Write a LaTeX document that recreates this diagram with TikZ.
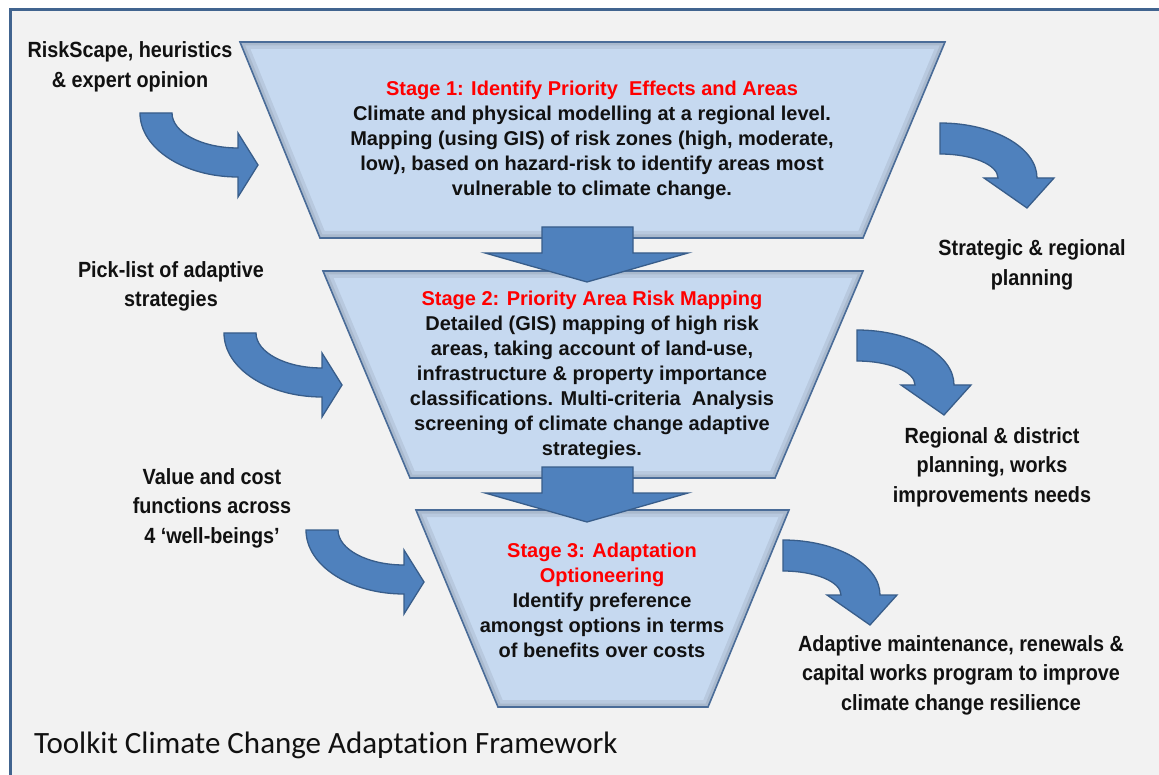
\documentclass[tikz,border=0pt]{standalone}
\usepackage{fontspec}
\setmainfont{Liberation Sans}
\newfontfamily\labfont{Liberation Sans}[FakeStretch=0.9]
\newfontfamily\capfont{Carlito}[Ligatures=NoCommon]
\definecolor{pagebg}{HTML}{F2F2F2}
\definecolor{frameblue}{HTML}{41648F}
\definecolor{trapblue}{HTML}{C6D9F0}
\definecolor{trapedge}{HTML}{4A6C98}
\definecolor{arrowblue}{HTML}{4F81BD}
\definecolor{arrowedge}{HTML}{385D8A}
\definecolor{stagered}{HTML}{FF0000}
\definecolor{txt}{HTML}{111111}
\newcommand{\mytrap}[4]{%
  \begin{scope}
    \clip #1--#2--#3--#4--cycle;
    \fill[trapblue] #1--#2--#3--#4--cycle;
    \draw[black,line width=14pt,opacity=0.07] #1--#2--#3--#4--cycle;
    \draw[black,line width=7pt,opacity=0.08] #1--#2--#3--#4--cycle;
  \end{scope}
  \draw[trapedge,line width=1.6pt,line join=miter] #1--#2--#3--#4--cycle;}
\newcommand{\leftblock}{%
  \filldraw[blockarrow] (140,-113) -- (172,-113)
    arc[start angle=180,end angle=270,x radius=66,y radius=35]
    -- (238,-133) -- (258,-165) -- (238,-197) -- (238,-177)
    arc[start angle=270,end angle=180,x radius=98,y radius=64] -- cycle;}
\newcommand{\rightblock}{%
  \filldraw[blockarrow] (940,-123)
    arc[start angle=90,end angle=0,x radius=97,y radius=55]
    -- (1054,-178) -- (1027,-208) -- (984,-178) -- (998,-178)
    arc[start angle=0,end angle=90,x radius=58,y radius=24] -- cycle;}
\newcommand{\downblock}{%
  \filldraw[blockarrow] (542,-227) -- (633,-227) -- (633,-253) -- (688,-253)
    -- (587,-282) -- (485,-253) -- (542,-253) -- cycle;}
\begin{document}
\begin{tikzpicture}[x=1pt,y=1pt,
  blockarrow/.style={fill=arrowblue,draw=arrowedge,line width=1.3pt,line join=miter},
  stagetext/.style={align=center,text=txt,inner sep=0pt,font=\fontsize{20}{25}\selectfont\bfseries},
  outlabel/.style={align=center,text=txt,inner sep=0pt,font=\labfont\fontsize{22}{29.5}\selectfont\bfseries},
  st/.style={text=stagered}]
\useasboundingbox (0,0) rectangle (1159,-775);
\clip (0,0) rectangle (1159,-775);
\fill[white] (0,0) rectangle (1159,-775);
\filldraw[fill=pagebg,draw=frameblue,line width=3pt] (10,-10) rectangle (1185,-800);

% stages
\mytrap{(240,-42)}{(945,-42)}{(863,-238)}{(320,-238)}
\mytrap{(323,-271)}{(863,-271)}{(775,-478)}{(410,-478)}
\mytrap{(416,-510)}{(789,-510)}{(708,-707)}{(498,-707)}

% down arrows
\downblock
\begin{scope}[shift={(0,-240)}]\downblock\end{scope}

% left curved arrows
\leftblock
\begin{scope}[shift={(84,-220)}]\leftblock\end{scope}
\begin{scope}[shift={(166,-417)}]\leftblock\end{scope}

% right curved arrows
\rightblock
\begin{scope}[shift={(-83,-207)}]\rightblock\end{scope}
\begin{scope}[shift={(-157,-417)}]\rightblock\end{scope}

% stage texts
\node[stagetext] (s1) at (592,-140) {{\color{stagered}Stage 1: Identify Priority \ Effects and Areas}\\
Climate and physical modelling at a regional level.\\
Mapping (using GIS) of risk zones (high, moderate,\\
low), based on hazard-risk to identify areas most\\
vulnerable to climate change.};
\node[stagetext] (s2) at (592,-375.5) {{\color{stagered}Stage 2: Priority Area Risk Mapping}\\
Detailed (GIS) mapping of high risk\\
areas, taking account of land-use,\\
infrastructure \& property importance\\
classifications. Multi-criteria \ Analysis\\
screening of climate change adaptive\\
strategies.};
\node[stagetext] (s3) at (602,-600) {{\color{stagered}Stage 3: Adaptation}\\
{\color{stagered}Optioneering}\\
Identify preference\\
amongst options in terms\\
of benefits over costs};

% outside labels
\node[outlabel] (in1) at (130,-67) {RiskScape, heuristics\\\& expert opinion};
\node[outlabel] (in2) at (171,-286.5) {Pick-list of adaptive\\strategies};
\node[outlabel] (in3) at (212,-508) {Value and cost\\functions across\\4 ‘well-beings’};
\node[outlabel] (out1) at (1032,-265) {Strategic \& regional\\planning};
\node[outlabel] (out2) at (992,-467) {Regional \& district\\planning, works\\improvements needs};
\node[outlabel] (out3) at (961,-675) {Adaptive maintenance, renewals \&\\capital works program to improve\\climate change resilience};

% caption
\node[anchor=base west,inner sep=0pt,text=txt,font=\capfont\fontsize{31}{34}\selectfont] (cap) at (34,-753) {Toolkit Climate Change Adaptation Framework};
\end{tikzpicture}
\end{document}
